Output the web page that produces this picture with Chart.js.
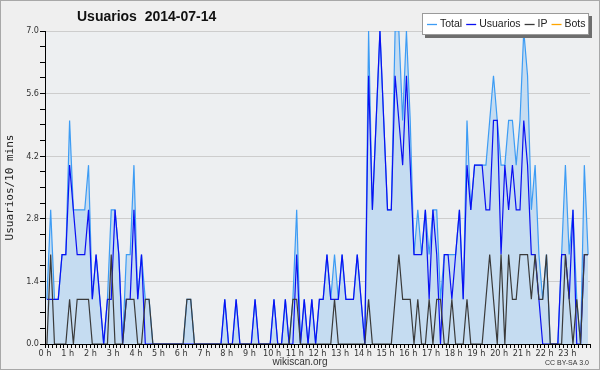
<!DOCTYPE html>
<html>
<head>
<meta charset="utf-8">
<script src="https://cdn.jsdelivr.net/npm/chart.js@4.4.1/dist/chart.umd.min.js"></script>
<style>
  html, body { margin: 0; padding: 0; background: #efefef; }
  canvas { display: block; }
</style>
</head>
<body>
<canvas id="chart" width="600" height="370"></canvas>
<script>
// one value per 10 minutes, 144 bins for the day
var usuarios = [
  1,1,1,1,2,2,4,3,2,2,2,3,
  1,2,1,0,1,1,3,2,0,1,1,3,
  1,2,0,0,0,0,0,0,0,0,0,0,
  0,0,0,0,0,0,0,0,0,0,0,1,
  0,0,1,0,0,0,0,1,0,0,0,0,
  1,0,0,1,0,0,2,0,1,0,1,0,
  1,1,2,1,1,1,2,1,1,1,2,1,
  0,6,3,5,7,5,3,3,6,5,4,6,
  4,2,2,2,3,1,3,2,0,2,2,1,
  2,3,1,4,3,4,4,4,3,3,5,5,
  2,4,3,4,3,3,5,4,2,2,1,0,
  0,0,0,0,2,2,1,3,0,0,2,2
];
var ip = [
  0,2,0,0,0,0,1,0,1,1,1,1,
  0,0,0,0,0,2,0,0,0,1,1,1,
  0,0,1,1,0,0,0,0,0,0,0,0,
  0,1,1,0,0,0,0,0,0,0,0,0,
  0,0,0,0,0,0,0,0,0,0,0,0,
  0,0,0,0,0,1,1,0,0,0,0,0,
  0,0,0,0,1,0,0,0,0,0,0,0,
  0,1,0,0,0,0,0,0,1,2,1,1,
  1,0,1,0,0,1,0,1,1,0,0,1,
  0,0,0,1,0,0,0,0,1,2,1,0,
  2,0,2,1,1,2,2,2,1,2,1,1,
  2,0,0,0,0,2,1,0,1,0,2,2
];
var total = [
  1,3,1,1,2,2,5,3,3,3,3,4,
  1,2,1,0,1,3,3,2,0,2,2,4,
  1,2,1,1,0,0,0,0,0,0,0,0,
  0,1,1,0,0,0,0,0,0,0,0,1,
  0,0,1,0,0,0,0,1,0,0,0,0,
  1,0,0,1,0,1,3,0,1,0,1,0,
  1,1,2,1,2,1,2,1,1,1,2,1,
  0,7,3,5,7,5,3,3,7,7,5,7,
  5,2,3,2,3,2,3,3,1,2,2,2,
  2,3,1,5,3,4,4,4,4,5,6,5,
  4,4,5,5,4,5,7,6,3,4,2,1,
  2,0,0,0,2,4,2,3,1,0,4,2
];
var bots = [
  0,0,0,0,0,0,0,0,0,0,0,0,
  0,0,0,0,0,0,0,0,0,0,0,0,
  0,0,0,0,0,0,0,0,0,0,0,0,
  0,0,0,0,0,0,0,0,0,0,0,0,
  0,0,0,0,0,0,0,0,0,0,0,0,
  0,0,0,0,0,0,0,0,0,0,0,0,
  0,0,0,0,0,0,0,0,0,0,0,0,
  0,0,0,0,0,0,0,0,0,0,0,0,
  0,0,0,0,0,0,0,0,0,0,0,0,
  0,0,0,0,0,0,0,0,0,0,0,0,
  0,0,0,0,0,0,0,0,0,0,0,0,
  0,0,0,0,0,0,0,0,0,0,0,0
];
var hourLabels = ['0 h','1 h','2 h','3 h','4 h','5 h','6 h','7 h','8 h','9 h','10 h','11 h',
  '12 h','13 h','14 h','15 h','16 h','17 h','18 h','19 h','20 h','21 h','22 h','23 h'];
var yLabels = ['0.0','1.4','2.8','4.2','5.6','7.0'];
var seriesNames = ['Total','Usuarios','IP','Bots'];
var seriesColors = ['#3d9cf4','#0a10f2','#3a3a3a','#ffa500'];

function pts(arr) {
  return arr.map(function(v, i) { return { x: i + 0.5, y: v }; });
}

var deco = {
  id: 'deco',
  beforeDraw: function(chart) {
    var c = chart.ctx, a = chart.chartArea;
    c.save();
    c.fillStyle = '#efefef';
    c.fillRect(0, 0, chart.width, chart.height);
    c.fillStyle = '#edeff1';
    c.fillRect(a.left, a.top, a.right - a.left, a.bottom - a.top);
    c.restore();
  },
  afterDraw: function(chart) {
    var c = chart.ctx;
    c.save();
    c.strokeStyle = '#a8a8a8';
    c.lineWidth = 1;
    c.strokeRect(0.5, 0.5, chart.width - 1, chart.height - 1);

    // title
    c.fillStyle = '#111';
    c.font = 'bold 14px "Liberation Sans", Arial, sans-serif';
    c.textBaseline = 'middle';
    c.textAlign = 'left';
    c.fillText('Usuarios  2014-07-14', 77, 17);

    // legend box
    c.fillStyle = '#6e6e6e';
    c.fillRect(425, 16, 167, 22);
    c.fillStyle = '#ffffff';
    c.fillRect(422, 13, 167, 22);
    c.strokeStyle = '#9a9a9a';
    c.strokeRect(422.5, 13.5, 166, 21);
    c.font = '10.5px "Liberation Sans", Arial, sans-serif';
    var x = 427;
    for (var i = 0; i < seriesNames.length; i++) {
      c.strokeStyle = seriesColors[i];
      c.lineWidth = 1.3;
      c.beginPath();
      c.moveTo(x, 24.5);
      c.lineTo(x + 10, 24.5);
      c.stroke();
      c.fillStyle = '#222';
      c.fillText(seriesNames[i], x + 13, 24.5);
      x += 13 + c.measureText(seriesNames[i]).width + 4;
    }

    // footer
    c.fillStyle = '#333';
    c.textAlign = 'center';
    c.font = '10px "Liberation Sans", Arial, sans-serif';
    c.fillText('wikiscan.org', 300, 362);
    c.textAlign = 'right';
    c.font = '7px "Liberation Sans", Arial, sans-serif';
    c.fillText('CC BY-SA 3.0', 589, 363);
    c.restore();
  }
};

var ctx = document.getElementById('chart').getContext('2d');
var chart = new Chart(ctx, {
  type: 'line',
  data: {
    datasets: [
      { label: seriesNames[0], data: pts(total), borderColor: seriesColors[0], backgroundColor: '#c5dcf1', fill: 'origin', order: 4 },
      { label: seriesNames[1], data: pts(usuarios), borderColor: seriesColors[1], fill: false, order: 3 },
      { label: seriesNames[2], data: pts(ip), borderColor: seriesColors[2], fill: false, order: 2 },
      { label: seriesNames[3], data: pts(bots), borderColor: seriesColors[3], fill: false, order: 5 }
    ]
  },
  options: {
    responsive: false,
    animation: false,
    elements: {
      point: { radius: 0 },
      line: { borderWidth: 1.2, tension: 0 }
    },
    layout: { padding: { left: 0, right: 10, top: 31, bottom: 0 } },
    plugins: {
      legend: { display: false },
      tooltip: { enabled: false }
    },
    scales: {
      x: {
        type: 'linear',
        min: 0,
        max: 144,
        z: 1,
        afterFit: function(s) { s.height = 26; },
        afterBuildTicks: function(s) {
          var t = [];
          for (var k = 0; k <= 144; k++) t.push({ value: k });
          s.ticks = t;
        },
        ticks: {
          autoSkip: false,
          maxRotation: 0,
          minRotation: 0,
          padding: 0,
          color: '#333',
          font: { size: 9, family: '"DejaVu Sans Condensed", "DejaVu Sans", sans-serif' },
          callback: function(v) { return (v % 6 === 0 && v < 144) ? hourLabels[v / 6] : ''; }
        },
        grid: { drawOnChartArea: false, tickLength: 4, tickColor: '#000' },
        border: { color: '#000', width: 1 }
      },
      y: {
        min: 0,
        max: 7,
        afterFit: function(s) { s.width = 45; },
        afterBuildTicks: function(s) {
          var t = [];
          for (var k = 0; k <= 20; k++) t.push({ value: Math.round(k * 35) / 100 });
          s.ticks = t;
        },
        ticks: {
          autoSkip: false,
          padding: 1,
          color: '#333',
          font: { size: 9, family: '"DejaVu Sans Condensed", "DejaVu Sans", sans-serif' },
          callback: function(v, idx) { return idx % 4 === 0 ? yLabels[idx / 4] : ''; }
        },
        grid: {
          color: function(c) { return c.index % 4 === 0 ? '#cdcdcd' : 'rgba(0,0,0,0)'; },
          tickColor: '#000',
          tickLength: 5
        },
        border: { color: '#000', width: 1 },
        title: {
          display: true,
          text: 'Usuarios/10 mins',
          color: '#222',
          padding: { top: 4, bottom: 0 },
          font: { size: 11, family: '"DejaVu Sans Mono", monospace' }
        }
      }
    }
  },
  plugins: [deco]
});
</script>
</body>
</html>
